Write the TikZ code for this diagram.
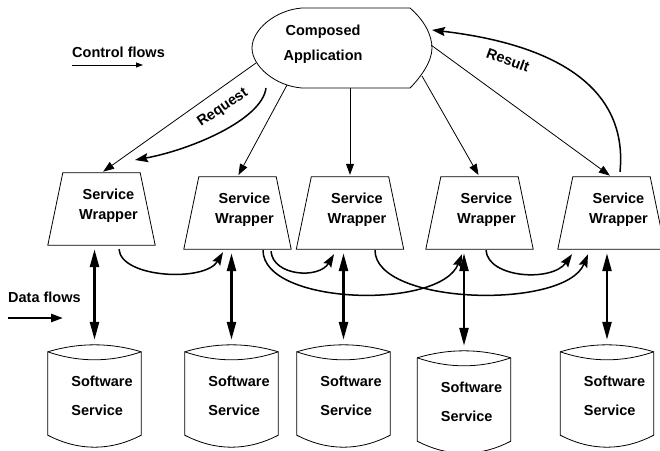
\documentclass[tikz,border=0pt]{standalone}
\usepackage{fontspec}
\setmainfont{Liberation Sans}
\usetikzlibrary{arrows.meta}
\begin{document}
\begin{tikzpicture}[x=1pt,y=-1pt,
  outline/.style={draw=black, line width=0.8pt, line join=miter},
  ctrl/.style={line width=0.8pt, -{Triangle[width=8pt,length=11pt]}, shorten >=2pt},
  flow/.style={line width=1.5pt, -{Stealth[width=9pt,length=13pt,inset=2pt]}},
  data/.style={line width=2.5pt, {Triangle[width=9pt,length=18pt]}-{Triangle[width=9pt,length=18pt]}, shorten <=4pt, shorten >=5pt},
  wrapbox/.style={minimum width=107pt, minimum height=72pt, inner sep=0pt,
    label={[xshift=7pt, yshift=3.5pt, align=center, font=\fontsize{14.5}{19.5}\selectfont\bfseries]center:Service\\Wrapper}},
  cylbox/.style={minimum width=93pt, minimum height=102pt, inner sep=0pt,
    label={[xshift=7.5pt, align=left, font=\fontsize{14.5}{29}\selectfont\bfseries]center:Software\\Service}},
  txt/.style={font=\fontsize{14.5}{18}\selectfont\bfseries, inner sep=0pt}
]
\useasboundingbox (0,0) rectangle (660,450);
\clip (0,0) rectangle (660,450);

% Composed application
\draw[outline] (302,8) -- (410,8)
  .. controls (424,20) and (432,35) .. (432,48)
  .. controls (432,62) and (420,78) .. (410,88)
  -- (302,88)
  .. controls (275,86) and (252,66) .. (252,48)
  .. controls (252,30) and (275,10) .. (302,8) -- cycle;
\node[align=center, font=\fontsize{14.5}{25}\selectfont\bfseries, inner sep=0pt] (app) at (323,44.5) {Composed\\Application};
\coordinate (a1) at (256,63);
\coordinate (a2) at (287,85);
\coordinate (a3) at (350,88);
\coordinate (a4) at (422,76);
\coordinate (a5) at (431,45);
\coordinate (a6) at (432,30);
\coordinate (rq) at (266,88);
\coordinate (rqe) at (135,160);

% Wrappers
\node[wrapbox] (w1) at (101.5,209) {};
\node[wrapbox] (w2) at (237.5,213) {};
\node[wrapbox] (w3) at (350,213) {};
\node[wrapbox] (w4) at (479.5,213) {};
\node[wrapbox] (w5) at (611.5,213) {};
\foreach \w in {w1,w2,w3,w4,w5}{
  \draw[outline] (\w.south west) -- ([xshift=15pt]\w.north west) -- ([xshift=-15pt]\w.north east) -- (\w.south east) -- cycle;
}

% Cylinders
\node[cylbox] (c1) at (94.5,396) {};
\node[cylbox] (c2) at (231.5,396) {};
\node[cylbox] (c3) at (343.5,396) {};
\node[cylbox] (c4) at (464,402) {};
\node[cylbox] (c5) at (607,396) {};
\foreach \c in {c1,c2,c3,c4,c5}{
  \draw[outline] ([yshift=-7pt]\c.north west)
      .. controls ([xshift=31pt,yshift=2.33pt]\c.north west) and ([xshift=-31pt,yshift=2.33pt]\c.north east) .. ([yshift=-7pt]\c.north east)
      -- ([yshift=12pt]\c.south east)
      .. controls ([xshift=-31pt,yshift=-4pt]\c.south east) and ([xshift=31pt,yshift=-4pt]\c.south west) .. ([yshift=12pt]\c.south west)
      -- cycle;
  \draw[outline] ([yshift=-7pt]\c.north west)
      .. controls ([xshift=31pt,yshift=-17.67pt]\c.north west) and ([xshift=-31pt,yshift=-17.67pt]\c.north east) .. ([yshift=-7pt]\c.north east);
}

% Control arrows
\draw[ctrl] (a1) -- (w1.north);
\draw[ctrl] (a2) -- (w2.north);
\draw[ctrl] (a3) -- (w3.north);
\draw[ctrl] (a4) -- (w4.north);
\draw[ctrl] (a5) -- (w5.north);

% Request / Result
\draw[flow] (rq) .. controls (262,120) and (190,150) .. (rqe);
\node[txt, rotate=34] (req) at (223,108) {Request};
\draw[flow] ([xshift=8.5pt,yshift=5pt]w5.north) .. controls (628,90) and (560,45) .. (a6);
\node[txt, rotate=-20] (res) at (508,60) {Result};

% Data arrows
\draw[data] (c1.north |- w1.south) -- (c1.north);
\draw[data] (c2.north |- w2.south) -- (c2.north);
\draw[data] (c3.north |- w3.south) -- (c3.north);
\draw[data] (c4.north |- w4.south) -- (c4.north);
\draw[data] (c5.north |- w5.south) -- (c5.north);

% Wrapper-to-wrapper flows
\draw[flow] ([xshift=17.5pt,yshift=-4pt]w1.south) .. controls +(2,29) and +(-18,30) .. ([xshift=-14.5pt,yshift=-3pt]w2.south);
\draw[flow] ([xshift=33.5pt,yshift=-2pt]w2.south) .. controls +(2,25) and +(-15,25) .. ([xshift=-16pt,yshift=-5pt]w3.south);
\draw[flow] ([xshift=25.5pt,yshift=-1pt]w2.south) .. controls +(0,55) and +(-22,56) .. ([xshift=-17.5pt,yshift=-5pt]w4.south);
\draw[flow] ([xshift=25pt,yshift=-1pt]w3.south) .. controls +(0,55) and +(-23,56) .. ([xshift=-23.5pt,yshift=-5pt]w5.south);
\draw[flow] ([xshift=6.5pt,yshift=-1pt]w4.south) .. controls +(2,28) and +(-20,28) .. ([xshift=-39.5pt,yshift=-5pt]w5.south);

% Legend
\node[txt, anchor=west] (lc) at (72,52) {Control flows};
\coordinate (lcs) at (72,65);
\coordinate (lce) at (143,65);
\draw[line width=0.8pt, -{Triangle[width=5pt,length=7pt]}] (lcs) -- (lce);
\node[txt, anchor=west] (ld) at (8,297) {Data flows};
\coordinate (lds) at (8,318);
\coordinate (lde) at (63,318);
\draw[line width=2.5pt, -{Triangle[width=8pt,length=12pt]}] (lds) -- (lde);
\end{tikzpicture}
\end{document}
